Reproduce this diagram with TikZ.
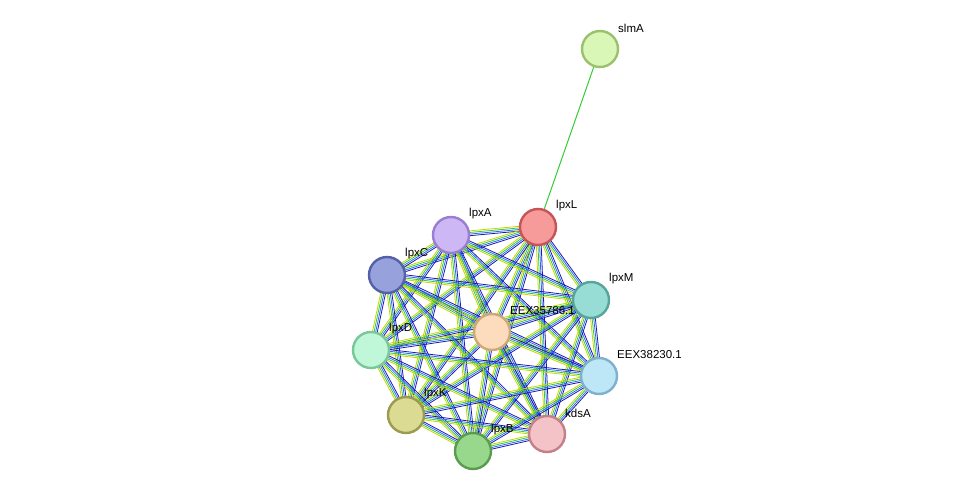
\documentclass[tikz,border=0pt]{standalone}
\usepackage{fontspec}
\setmainfont{Liberation Sans}
\usetikzlibrary{calc}
\begin{document}
\begin{tikzpicture}[x=1pt,y=-1pt,
  prot/.style={circle,draw,line width=2.4pt,minimum size=36pt,inner sep=0pt},
  lab/.style={anchor=west,font=\fontsize{11.5}{13}\selectfont,inner sep=0pt}]
\useasboundingbox (0,0) rectangle (975,497);
\def\np#1#2#3#4#5#6{\definecolor{f#1}{HTML}{#4}\definecolor{b#1}{HTML}{#5}\coordinate (#1) at (#2,#3);}
\np{slmA}{600}{49}{D9F7B7}{9BC16E}{}
\np{lpxL}{538}{227}{F79A9A}{C75555}{}
\np{lpxA}{451}{235}{CDB8F5}{9A7FD0}{}
\np{lpxC}{387}{275}{97A1DC}{5460A8}{}
\np{lpxM}{591}{300}{97DDD5}{55A59C}{}
\np{EEXa}{492}{332}{FCDCBC}{D0A878}{}
\np{lpxD}{371}{350}{BFF7D8}{7AC79A}{}
\np{EEXb}{599}{376}{BDE6F7}{7FB0CC}{}
\np{lpxK}{406}{415}{DCDB94}{9C9A4F}{}
\np{kdsA}{547}{434}{F4C3C8}{C48088}{}
\np{lpxB}{473}{451}{97D88C}{5A9C4E}{}
\definecolor{eyel}{HTML}{C8D400}\definecolor{egrn}{HTML}{33CC33}
\definecolor{eblu}{HTML}{3366FF}\definecolor{enav}{HTML}{1A1AB0}
\draw[egrn,line width=1pt] (slmA) -- (lpxL);
\foreach \a/\rest in {lpxL/{lpxA,lpxC,lpxM,EEXa,lpxD,EEXb,lpxK,kdsA,lpxB},
  lpxA/{lpxC,lpxM,EEXa,lpxD,EEXb,lpxK,kdsA,lpxB},
  lpxC/{lpxM,EEXa,lpxD,EEXb,lpxK,kdsA,lpxB},
  lpxM/{EEXa,lpxD,EEXb,lpxK,kdsA,lpxB},
  EEXa/{lpxD,EEXb,lpxK,kdsA,lpxB},
  lpxD/{EEXb,lpxK,kdsA,lpxB},
  EEXb/{lpxK,kdsA,lpxB},
  lpxK/{kdsA,lpxB},
  kdsA/{lpxB}}{
  \foreach \b in \rest {
    \foreach \o/\c in {-2.4/eyel,-0.8/egrn,0.8/eblu,2.4/enav}{
      \draw[\c,line width=0.8pt] ($(\a)!\o pt!90:(\b)$) -- ($(\b)!\o pt!-90:(\a)$);
    }
  }
}
\foreach \n/\t in {slmA/slmA,lpxL/lpxL,lpxA/lpxA,lpxC/lpxC,lpxM/lpxM,EEXa/EEX35786.1,lpxD/lpxD,EEXb/EEX38230.1,lpxK/lpxK,kdsA/kdsA,lpxB/lpxB}{
  \node[prot,fill=f\n,draw=b\n] (n\n) at (\n) {};
  \node[lab] (l\n) at ($(\n)+(18,-21)$) {\t};
}
\end{tikzpicture}
\end{document}
